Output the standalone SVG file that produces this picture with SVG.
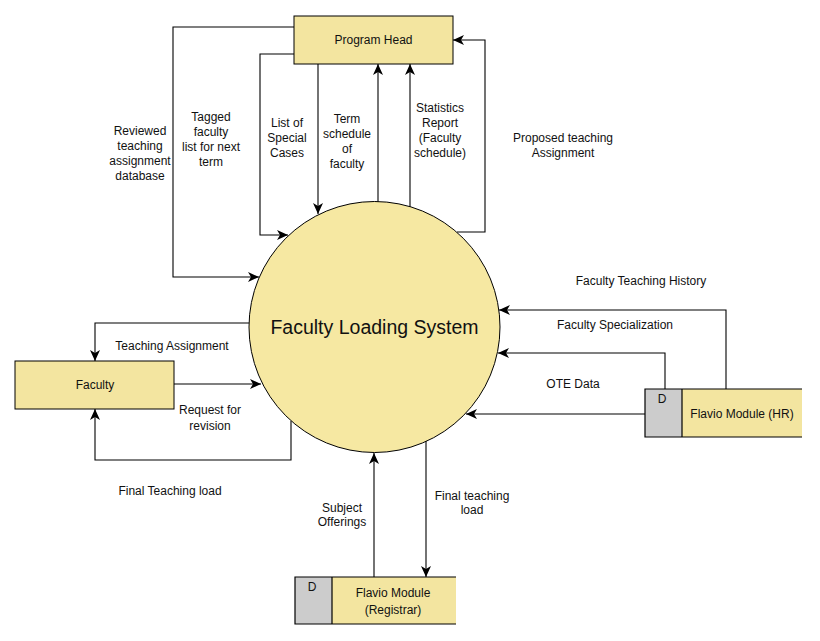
<svg xmlns="http://www.w3.org/2000/svg" width="820" height="641" viewBox="0 0 820 641">
<style>
.box{fill:#F3E5A0;stroke:#000;stroke-width:1}
.proc{fill:#F6E8A2;stroke:#000;stroke-width:1}
.dfill{fill:#CCCCCC}
.sfill{fill:#F3E5A0}
.edge{fill:none;stroke:#000;stroke-width:1.2}
.conn{fill:none;stroke:#000;stroke-width:1.1;marker-end:url(#arr)}
text{font-family:"Liberation Sans",Arial,sans-serif;fill:#111}
.lbl{font-size:12px;text-anchor:middle}
.nm{font-size:12px;text-anchor:middle}
.big{font-size:19.5px;text-anchor:middle}
.d{font-size:12px;text-anchor:middle}
</style>
<defs>
<marker id="arr" markerUnits="userSpaceOnUse" markerWidth="12" markerHeight="10" refX="11" refY="5" orient="auto">
<path d="M0,0 L11,5 L0,10 L3,5 z" fill="#000"/>
</marker>
</defs>
<rect width="820" height="641" fill="#fff"/>

<g id="connectors">
<polyline class="conn" points="294,27 173,27 173,277 259,277"/>
<polyline class="conn" points="294,54 260,54 260,235 288,235"/>
<polyline class="conn" points="318,64 318,214"/>
<polyline class="conn" points="378,202 378,64"/>
<polyline class="conn" points="410,207 410,64"/>
<polyline class="conn" points="457,232 485,232 485,40 453,40"/>
<polyline class="conn" points="249,323 95,323 95,361"/>
<polyline class="conn" points="174,384 261,384"/>
<polyline class="conn" points="291,421 291,460 95,460 95,409"/>
<polyline class="conn" points="726,389 726,310 499,310"/>
<polyline class="conn" points="665,389 665,353 498,353"/>
<polyline class="conn" points="645,414 466,414"/>
<polyline class="conn" points="374,577 374,453"/>
<polyline class="conn" points="426,441 426,577"/>
</g>

<g id="labels">
<text class="lbl" x="140" y="135">Reviewed</text>
<text class="lbl" x="140" y="150">teaching</text>
<text class="lbl" x="140" y="165">assignment</text>
<text class="lbl" x="140" y="180">database</text>
<text class="lbl" x="211" y="121">Tagged</text>
<text class="lbl" x="211" y="136">faculty</text>
<text class="lbl" x="211" y="151">list for next</text>
<text class="lbl" x="211" y="166">term</text>
<text class="lbl" x="287" y="127">List of</text>
<text class="lbl" x="287" y="142">Special</text>
<text class="lbl" x="287" y="157">Cases</text>
<text class="lbl" x="347" y="123">Term</text>
<text class="lbl" x="347" y="138">schedule</text>
<text class="lbl" x="347" y="153">of</text>
<text class="lbl" x="347" y="168">faculty</text>
<text class="lbl" x="440" y="112">Statistics</text>
<text class="lbl" x="440" y="127">Report</text>
<text class="lbl" x="440" y="142">(Faculty</text>
<text class="lbl" x="440" y="157">schedule)</text>
<text class="lbl" x="563" y="142">Proposed teaching</text>
<text class="lbl" x="563" y="157">Assignment</text>
<text class="lbl" x="641" y="285">Faculty Teaching History</text>
<text class="lbl" x="615" y="329">Faculty Specialization</text>
<text class="lbl" x="573" y="388">OTE Data</text>
<text class="lbl" x="172" y="350">Teaching Assignment</text>
<text class="lbl" x="210" y="414">Request for</text>
<text class="lbl" x="210" y="430">revision</text>
<text class="lbl" x="170" y="495">Final Teaching load</text>
<text class="lbl" x="342" y="512">Subject</text>
<text class="lbl" x="342" y="526">Offerings</text>
<text class="lbl" x="472" y="500">Final teaching</text>
<text class="lbl" x="472" y="514">load</text>
</g>

<g id="process">
<circle class="proc" cx="374.5" cy="327" r="125.5"/>
<text class="big" x="374.5" y="334">Faculty Loading System</text>
</g>

<g id="program-head">
<rect class="box" x="294" y="16" width="159" height="48"/>
<text class="nm" x="373.5" y="44">Program Head</text>
</g>

<g id="faculty">
<rect class="box" x="15" y="361" width="159" height="48"/>
<text class="nm" x="95" y="389">Faculty</text>
</g>

<g id="flavio-hr">
<rect class="dfill" x="645" y="389" width="37" height="48"/>
<rect class="sfill" x="682" y="389" width="120" height="48"/>
<path class="edge" d="M802,389 H645 V437 H802 M682,389 V437"/>
<text class="d" x="662" y="403">D</text>
<text class="nm" x="742" y="418">Flavio Module (HR)</text>
</g>

<g id="flavio-registrar">
<rect class="dfill" x="295" y="577" width="37" height="47"/>
<rect class="sfill" x="332" y="577" width="124" height="47"/>
<path class="edge" d="M456,577 H295 V624 H456 M332,577 V624"/>
<text class="d" x="312" y="591">D</text>
<text class="nm" x="393" y="597">Flavio Module</text>
<text class="nm" x="393" y="614">(Registrar)</text>
</g>
</svg>
